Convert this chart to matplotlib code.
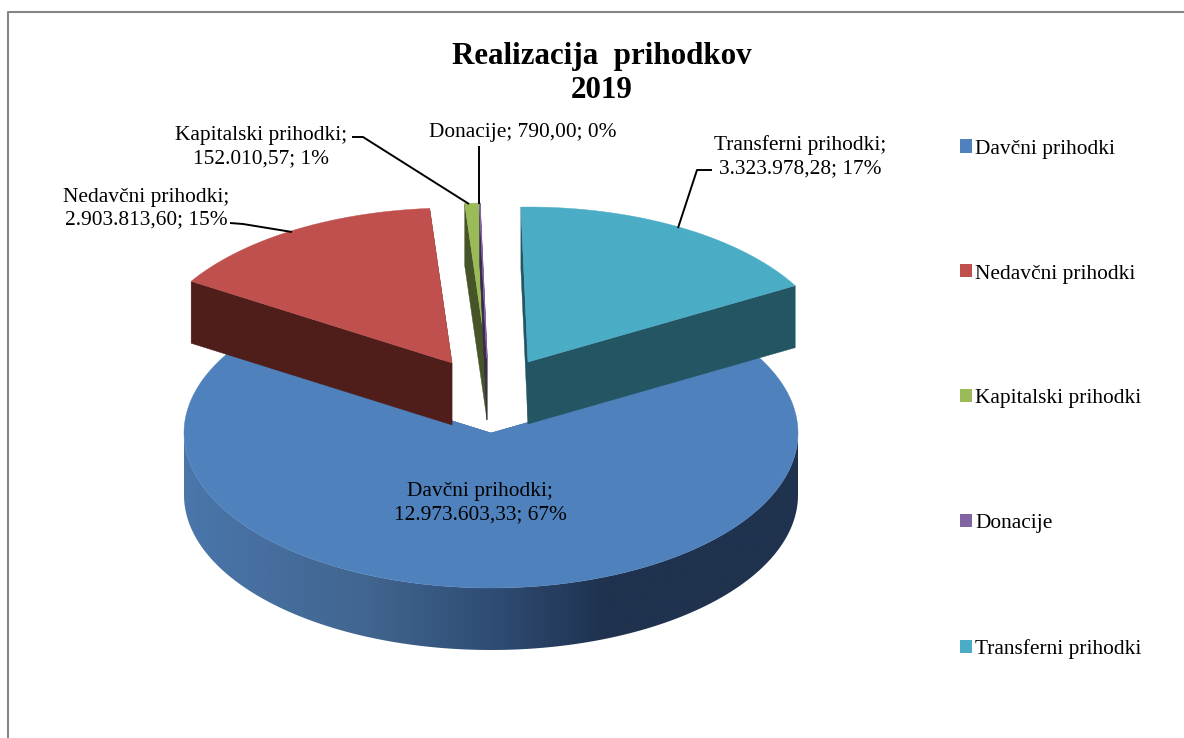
import numpy as np
import matplotlib
matplotlib.use('Agg')
import matplotlib.pyplot as plt
from matplotlib.patches import Patch, Polygon
from matplotlib.colors import LinearSegmentedColormap

plt.rcParams['font.family'] = ['Liberation Serif', 'DejaVu Serif']

# Data
categories = ['Davčni prihodki', 'Nedavčni prihodki', 'Kapitalski prihodki',
              'Donacije', 'Transferni prihodki']
values = [12973603.33, 2903813.60, 152010.57, 790.00, 3323978.28]

# Styles
top_colors = ['#4F81BD', '#C0504D', '#9BBB59', '#8064A2', '#4BACC6']
side_colors = ['#3A5F8C', '#4F1E1B', '#465527', '#3A2D4A', '#235562']
apex = [(491, 433), (452, 363), (487, 358), (487, 358), (528, 362)]
draw_order = [0, 2, 3, 1, 4]

# Ellipse of the pie, in pixels
rx, ry, depth = 307, 155, 62
start_angle = 29.5

label_pos = [(480, 503), (146, 208.5), (261, 147), (523, 133), (800, 157)]
leaders = {1: ([230, 243, 292], [223, 224, 232]),
           2: ([352, 363, 469], [137, 137, 204]),
           3: ([479, 479], [146, 204]),
           4: ([712, 697, 678], [170, 170, 228])}


def fmt_value(v):
    return f'{v:,.2f}'.replace(',', ' ').replace('.', ',').replace(' ', '.')


def arc(i, a1, a2, n=200, dz=0):
    t = np.radians(np.linspace(a1, a2, n))
    return (apex[i][0] + rx * np.cos(t), apex[i][1] - ry * np.sin(t) + dz)


fig = plt.figure(figsize=(11.84, 7.38), dpi=100)
ax = fig.add_axes([0, 0, 1, 1])

# chart border, only left and top are in the picture
ax.plot([8, 8, 1184], [738, 12, 12], color='#868686', lw=1.5)

# slice angles, clockwise from the start angle
spans = 360 * np.array(values) / sum(values)
ends = start_angle - np.cumsum(spans)
starts = ends + spans

side_cmap = LinearSegmentedColormap.from_list(
    'blue_side', [(0, '#4A76AB'), (0.3, '#41658F'), (0.5, '#2F4D75'),
                  (0.69, '#1F324E'), (1, '#1F324E')])

for i in draw_order:
    a1, a2 = starts[i], ends[i]
    cx, cy = apex[i]
    xs, ys = arc(i, a1, a2)

    # cut faces
    for x, y in [(xs[0], ys[0]), (xs[-1], ys[-1])]:
        ax.add_patch(Polygon([(cx, cy), (x, y), (x, y + depth), (cx, cy + depth)],
                             fc=side_colors[i], ec=side_colors[i], lw=0.3))

    # outer wall of the big slice, gradient clipped to the wall outline
    if i == 0:
        x1, y1 = arc(i, -180, 0)
        x2, y2 = arc(i, 0, -180, dz=depth)
        wall = Polygon(np.c_[np.r_[x1, x2], np.r_[y1, y2]], fc='none', ec='none')
        ax.add_patch(wall)
        im = ax.imshow(np.linspace(0, 1, 400)[None, :], cmap=side_cmap, aspect='auto',
                       extent=(cx - rx, cx + rx, cy + ry + depth, cy))
        im.set_clip_path(wall)

    # top surface
    ax.fill(np.r_[cx, xs], np.r_[cy, ys], fc=top_colors[i], ec=top_colors[i],
            lw=0.8 if i == 3 else 0.3)

# leader lines
for i in leaders:
    ax.plot(leaders[i][0], leaders[i][1], color='black', lw=1.4, solid_capstyle='butt')

# data labels
total = sum(values)
label_size = 15.4
for i, name in enumerate(categories):
    pct = round(100 * values[i] / total)
    if i == 3:
        txt = f'{name}; {fmt_value(values[i])}; {pct}%'
    else:
        txt = f'{name};\n{fmt_value(values[i])}; {pct}%'
    ax.text(label_pos[i][0], label_pos[i][1], txt, ha='center', va='center',
            fontsize=label_size, color='black', linespacing=1.28)

# title
ax.text(602, 73.5, 'Realizacija  prihodkov\n2019', ha='center', va='center',
        fontsize=22.3, fontweight='bold', color='black', linespacing=1.24)

# legend
handles = [Patch(fc=c, ec='none') for c in top_colors]
ax.legend(handles, categories, loc='upper left', bbox_to_anchor=(960 / 1184, 1 - 139.5 / 738),
          frameon=False, fontsize=label_size, labelspacing=4.95, handlelength=0.56,
          handleheight=0.56, handletextpad=0.14, borderpad=0, borderaxespad=0)

ax.set_xlim(0, 1184)
ax.set_ylim(738, 0)
ax.axis('off')

fig.savefig('out.png', dpi=100)
